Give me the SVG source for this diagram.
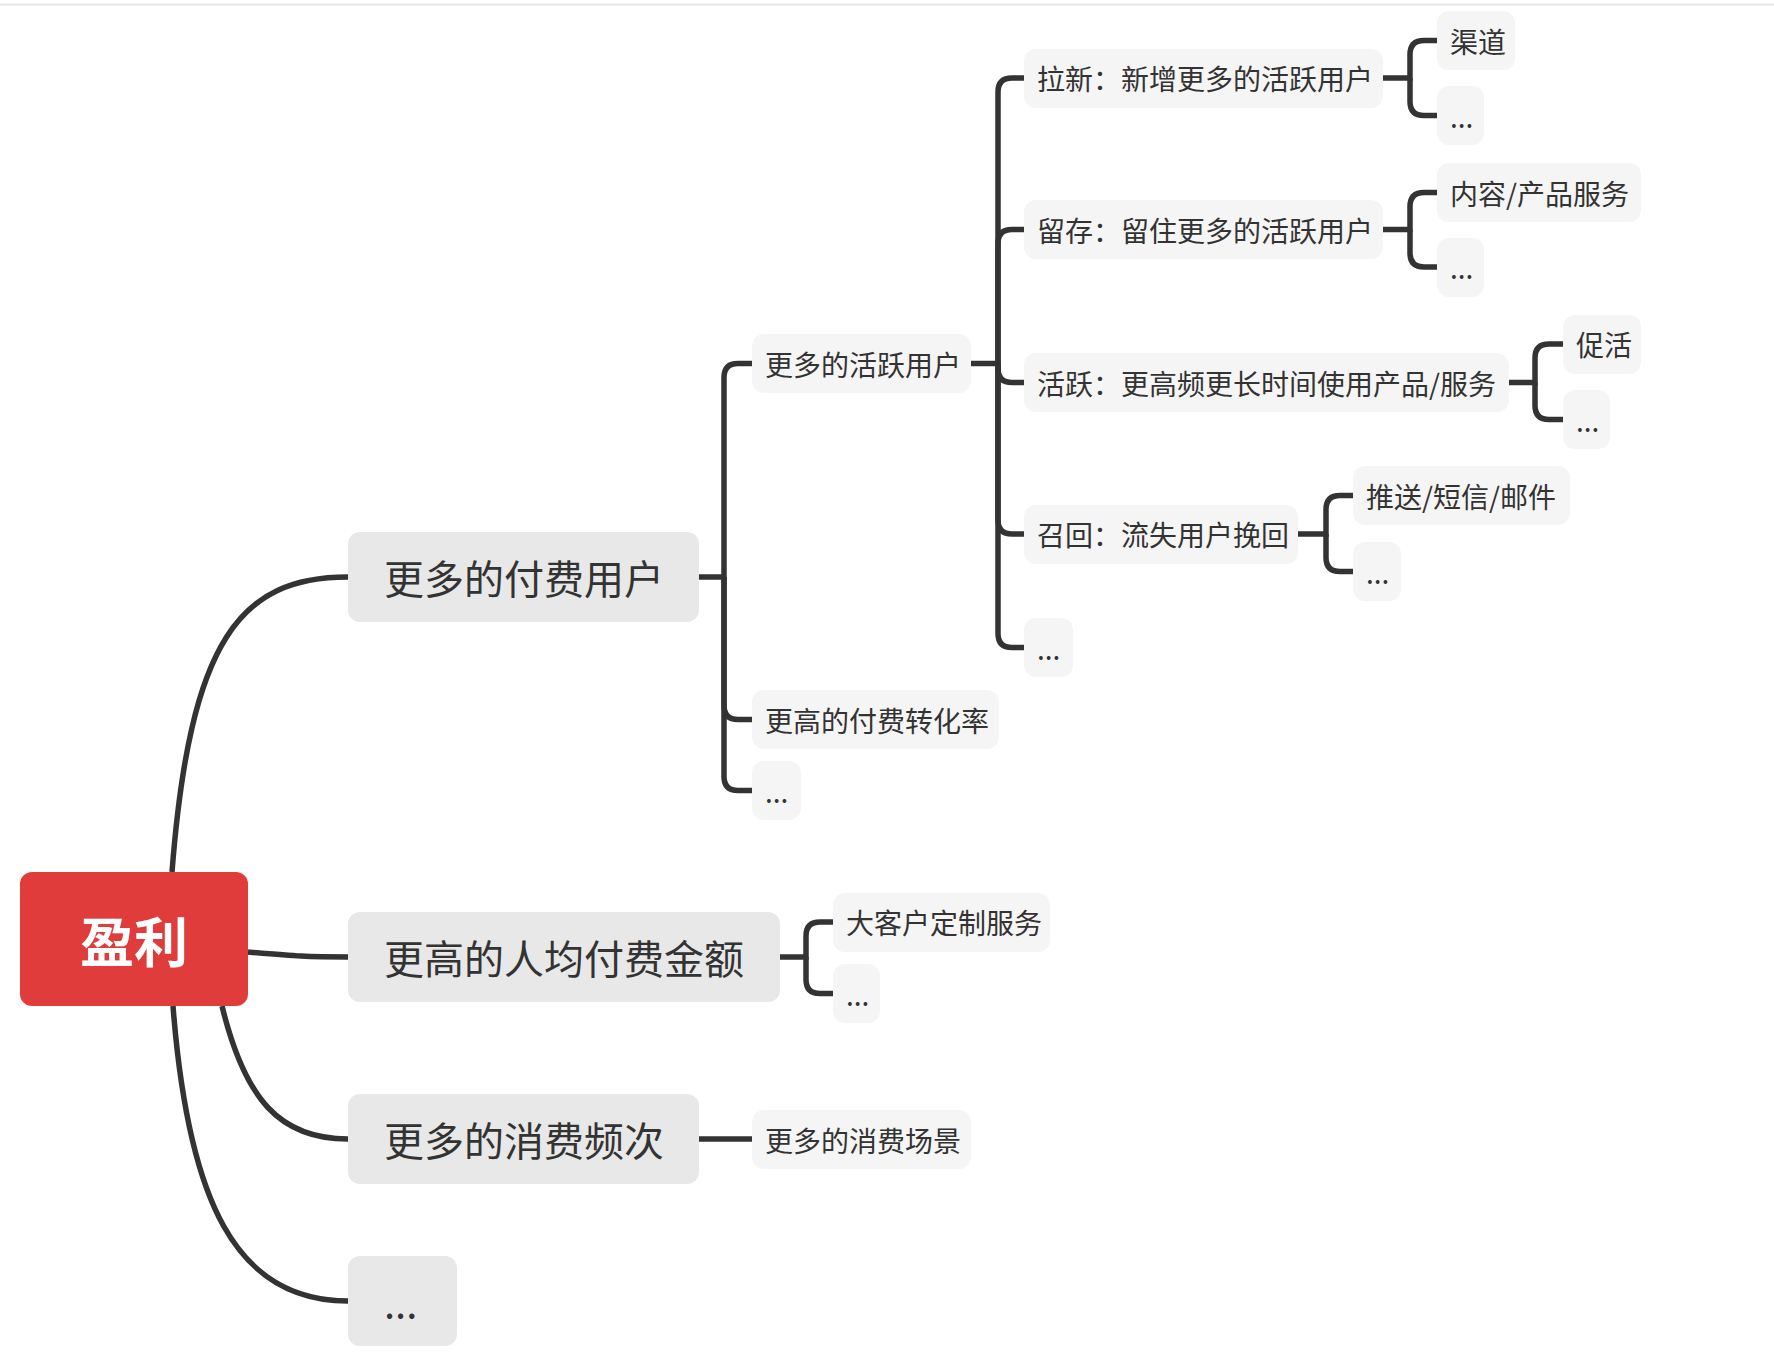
<svg xmlns="http://www.w3.org/2000/svg" width="1774" height="1360" viewBox="0 0 1774 1360">
<style>
.c{fill:none;stroke:#333;stroke-width:5.5;stroke-linecap:butt}
.cr{stroke-width:5.5}
.l1 rect{fill:#e8e8e8}
.l2 rect{fill:#f6f5f5}
text{font-family:"Noto Sans CJK SC","Noto Sans",sans-serif;fill:#333;dominant-baseline:central}
.l1 text{font-size:40px}
.l2 text{font-size:28px}
#root text{font-size:54px;font-weight:bold;fill:#fff;text-anchor:middle}
</style>
<rect x="0" y="0" width="1774" height="1360" fill="#fff"/>
<line x1="0" y1="4.5" x2="1774" y2="4.5" stroke="#e6e6e6" stroke-width="2"/>
<g id="connectors">
<path class="c cr" d="M172,872 C190,640 240,577 348,577"/>
<path class="c cr" d="M248,952 C295,956 305,957 348,957"/>
<path class="c cr" d="M222,1006 C245,1100 280,1139 348,1139"/>
<path class="c cr" d="M173,1006 C188,1200 235,1301 348,1301"/>
<path class="c" d="M699,577 H724 V377.5 Q724,363.5 738,363.5 H752"/>
<path class="c" d="M724,577 V705.5 Q724,719.5 738,719.5 H752"/>
<path class="c" d="M724,577 V776.5 Q724,790.5 738,790.5 H752"/>
<path class="c" d="M971,363.5 H998 V92 Q998,78 1012,78 H1024"/>
<path class="c" d="M998,363.5 V243.5 Q998,229.5 1012,229.5 H1024"/>
<path class="c" d="M998,363.5 V368.5 Q998,382.5 1012,382.5 H1024"/>
<path class="c" d="M998,363.5 V520 Q998,534 1012,534 H1024"/>
<path class="c" d="M998,363.5 V633.5 Q998,647.5 1012,647.5 H1024"/>
<path class="c" d="M1383,78 H1410 V54.5 Q1410,40.5 1424,40.5 H1437"/>
<path class="c" d="M1410,78 V101.5 Q1410,115.5 1424,115.5 H1437"/>
<path class="c" d="M1383,229.5 H1410 V206.5 Q1410,192.5 1424,192.5 H1437"/>
<path class="c" d="M1410,229.5 V253 Q1410,267 1424,267 H1437"/>
<path class="c" d="M1509,382.5 H1535 V358 Q1535,344 1549,344 H1563"/>
<path class="c" d="M1535,382.5 V405.5 Q1535,419.5 1549,419.5 H1563"/>
<path class="c" d="M1298,534 H1326 V509.5 Q1326,495.5 1340,495.5 H1353"/>
<path class="c" d="M1326,534 V557.5 Q1326,571.5 1340,571.5 H1353"/>
<path class="c" d="M780,957 H806 V936 Q806,922 820,922 H833"/>
<path class="c" d="M806,957 V979.5 Q806,993.5 820,993.5 H833"/>
<path class="c" d="M699,1139 H752"/>
</g>
<g id="root"><rect x="20" y="872" width="228" height="134" rx="12" fill="#e03c3c"/><text x="134" y="939">盈利</text></g>
<g id="n1" class="l1"><rect x="348" y="532" width="351" height="90" rx="12"/><text x="384" y="577">更多的付费用户</text></g>
<g id="n2" class="l1"><rect x="348" y="912" width="432" height="90" rx="12"/><text x="384" y="957">更高的人均付费金额</text></g>
<g id="n3" class="l1"><rect x="348" y="1094" width="351" height="90" rx="12"/><text x="384" y="1139">更多的消费频次</text></g>
<g id="n4" class="l1"><rect x="348" y="1256" width="109" height="90" rx="12"/><text x="384" y="1301">...</text></g>
<g id="a" class="l2"><rect x="752" y="334" width="219" height="59" rx="12"/><text x="765" y="363.5">更多的活跃用户</text></g>
<g id="b" class="l2"><rect x="752" y="690" width="247" height="59" rx="12"/><text x="765" y="719.5">更高的付费转化率</text></g>
<g id="c" class="l2"><rect x="752" y="761" width="49" height="59" rx="12"/><text x="765" y="790.5">...</text></g>
<g id="d" class="l2"><rect x="833" y="893" width="217" height="59" rx="12"/><text x="846" y="922">大客户定制服务</text></g>
<g id="e" class="l2"><rect x="833" y="964" width="47" height="59" rx="12"/><text x="846" y="993.5">...</text></g>
<g id="f" class="l2"><rect x="752" y="1110" width="219" height="59" rx="12"/><text x="765" y="1139.5">更多的消费场景</text></g>
<g id="g" class="l2"><rect x="1024" y="49" width="359" height="59" rx="12"/><text x="1037" y="78">拉新：新增更多的活跃用户</text></g>
<g id="h" class="l2"><rect x="1024" y="200" width="359" height="59" rx="12"/><text x="1037" y="229.5">留存：留住更多的活跃用户</text></g>
<g id="i" class="l2"><rect x="1024" y="353" width="485" height="59" rx="12"/><text x="1037" y="382.5">活跃：更高频更长时间使用产品/服务</text></g>
<g id="j" class="l2"><rect x="1024" y="505" width="274" height="59" rx="12"/><text x="1037" y="534">召回：流失用户挽回</text></g>
<g id="k" class="l2"><rect x="1024" y="618" width="49" height="59" rx="12"/><text x="1037" y="647.5">...</text></g>
<g id="l" class="l2"><rect x="1437" y="11" width="78" height="59" rx="12"/><text x="1450" y="40.5">渠道</text></g>
<g id="m" class="l2"><rect x="1437" y="86" width="47" height="59" rx="12"/><text x="1450" y="115.5">...</text></g>
<g id="n" class="l2"><rect x="1437" y="163" width="204" height="59" rx="12"/><text x="1450" y="192.5">内容/产品服务</text></g>
<g id="o" class="l2"><rect x="1437" y="238" width="47" height="59" rx="12"/><text x="1450" y="267">...</text></g>
<g id="p" class="l2"><rect x="1563" y="315" width="78" height="59" rx="12"/><text x="1576" y="344">促活</text></g>
<g id="q" class="l2"><rect x="1563" y="390" width="47" height="59" rx="12"/><text x="1576" y="419.5">...</text></g>
<g id="r" class="l2"><rect x="1353" y="466" width="217" height="59" rx="12"/><text x="1366" y="495.5">推送/短信/邮件</text></g>
<g id="s" class="l2"><rect x="1353" y="542" width="48" height="59" rx="12"/><text x="1366" y="571.5">...</text></g>
</svg>
